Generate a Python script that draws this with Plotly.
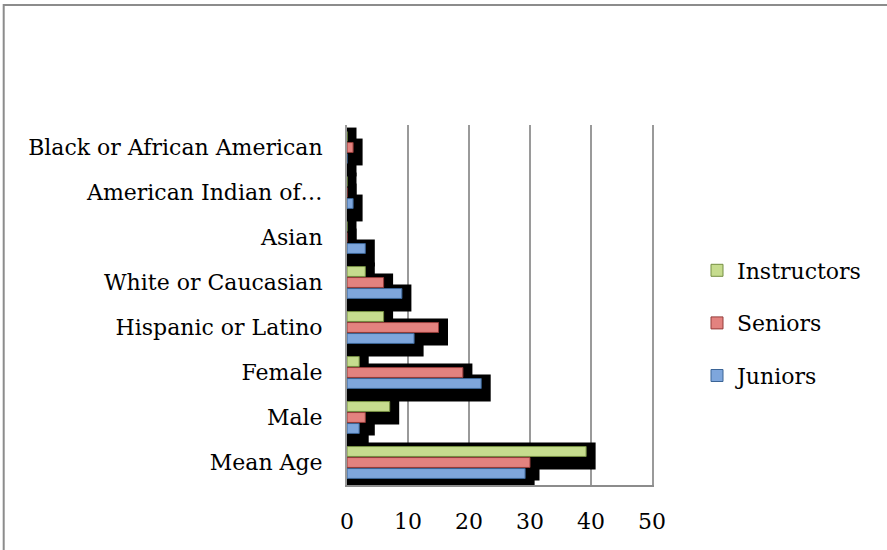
import plotly.graph_objects as go

# ---- data ----
categories = ["Mean Age", "Male", "Female", "Hispanic or Latino",
              "White or Caucasian", "Asian", "American Indian of…",
              "Black or African American"]
juniors = [29.2, 2, 22, 11, 9, 3, 1, 0]
seniors = [30, 3, 19, 15, 6, 0, 0, 1]
instructors = [39.2, 7, 2, 6, 3, 0, 0, 0]
x_ticks = [0, 10, 20, 30, 40, 50]

series = [
    ("Juniors", juniors, "#7ea6dc", "#3b6496"),
    ("Seniors", seniors, "#e3827f", "#943c3a"),
    ("Instructors", instructors, "#c6dc8e", "#758f42"),
]

FONT = "DejaVu Serif"
# ---- geometry / style ----
PLOT_L, PLOT_R, PLOT_T, PLOT_B = 347, 652, 125, 485
W, H = 887, 550
CAT_PX = (PLOT_B - PLOT_T) / len(categories)
PX_PER_UNIT = (PLOT_R - PLOT_L) / 50.0
BARGAP = 0.267
GROUPGAP = 0.1
GROUP = 1 - BARGAP
SLOT = GROUP / len(series)
BAR = SLOT * (1 - GROUPGAP)
SH_RIGHT = 9.5 / PX_PER_UNIT      # shadow extends to the right (value units)
SH_DOWN = 13 / CAT_PX             # shadow extends below bar (category units)
SH_UP = 4 / CAT_PX                # shadow extends above bar


def bar_offset(i):
    return -GROUP / 2 + SLOT * i + (SLOT - BAR) / 2


fig = go.Figure()

# shadows first (drawn beneath)
for i, (name, vals, fill, line) in enumerate(series):
    fig.add_trace(go.Bar(
        y=categories, x=[v + 2 * SH_RIGHT for v in vals], base=-SH_RIGHT,
        orientation="h", width=BAR + SH_DOWN + SH_UP,
        offset=bar_offset(i) - SH_DOWN,
        marker=dict(color="black", line=dict(width=0)),
        showlegend=False, hoverinfo="skip"))

# real bars, added top series first so the legend lists Instructors first
for i in reversed(range(len(series))):
    name, vals, fill, line = series[i]
    fig.add_trace(go.Bar(
        y=categories, x=vals, name=name, orientation="h",
        width=BAR, offset=bar_offset(i), legendgroup=name,
        marker=dict(color=fill, line=dict(color=line, width=1))))

fig.update_layout(
    width=W, height=H,
    margin=dict(l=PLOT_L, r=W - PLOT_R, t=PLOT_T, b=H - PLOT_B, autoexpand=False),
    barmode="overlay",
    paper_bgcolor="white", plot_bgcolor="white",
    font=dict(family=FONT, size=22, color="black"),
    hovermode=False,
    legend=dict(x=(697 - PLOT_L) / (PLOT_R - PLOT_L), xanchor="left",
                y=(PLOT_B - 323) / (PLOT_B - PLOT_T), yanchor="middle",
                traceorder="grouped", tracegroupgap=21,
                font=dict(family=FONT, size=22, color="black"),
                bgcolor="rgba(0,0,0,0)"),
    xaxis=dict(range=[0, 50], tickvals=x_ticks, showgrid=True,
               gridcolor="#9a9a9a", gridwidth=1.5, zeroline=False,
               showline=True, linecolor="#8c8c8c", linewidth=2,
               ticks="", ticklabelstandoff=16, automargin=False,
               tickfont=dict(family=FONT, size=22, color="black")),
    yaxis=dict(type="category", categoryorder="array", categoryarray=categories,
               range=[-0.5, len(categories) - 0.5], showgrid=False,
               zeroline=False, showline=True, mirror=True,
               linecolor="#9a9a9a", linewidth=2,
               ticks="", ticklabelstandoff=18, automargin=False,
               tickfont=dict(family=FONT, size=22, color="black")),
    shapes=[dict(type="rect", xref="paper", yref="paper",
                 x0=(3.7 - PLOT_L) / (PLOT_R - PLOT_L), x1=2.0,
                 y0=-1.0, y1=(PLOT_B - 5) / (PLOT_B - PLOT_T),
                 line=dict(color="#8c8c8c", width=2), layer="below")],
)

fig.write_html("out.html",
               config={"displayModeBar": False, "staticPlot": True},
               post_script="document.body.style.margin='0';document.body.style.overflow='hidden';")
